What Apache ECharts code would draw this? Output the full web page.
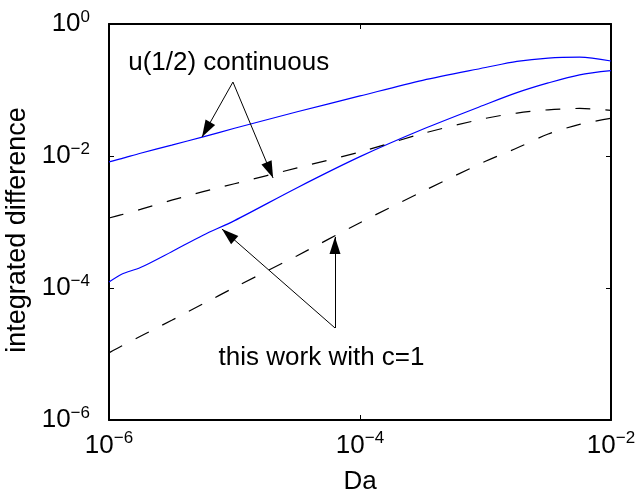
<!DOCTYPE html>
<html lang="en">
<head>
<meta charset="UTF-8">
<title>integrated difference vs Da</title>
<script src="https://cdn.jsdelivr.net/npm/echarts@6/dist/echarts.min.js"></script>
<style>
  html, body { margin: 0; padding: 0; background: #fff; }
  #main { width: 635px; height: 500px; }
</style>
</head>
<body>
<div id="main"></div>
<script>
// Da (x axis)
var da = [1e-6, 1.26e-6, 1.78e-6, 3.16e-6, 5.62e-6, 1e-5, 3.16e-5, 1e-4, 3.16e-4, 1e-3, 1.78e-3, 3.16e-3, 5.62e-3, 1e-2];
// blue solid, upper (u(1/2) continuous)
var contBlue = [8.13e-3, 9.12e-3, 1.10e-2, 1.46e-2, 1.95e-2, 2.63e-2, 4.68e-2, 8.13e-2, 0.140, 0.219, 0.272, 0.305, 0.314, 0.275];
// blue solid, lower (this work with c=1)
var workBlue = [1.23e-4, 1.62e-4, 2.04e-4, 3.55e-4, 6.31e-4, 1.05e-3, 3.31e-3, 9.77e-3, 2.54e-2, 6.03e-2, 9.12e-2, 0.128, 0.170, 0.196];
// black dashed, upper (u(1/2) continuous)
var contDash = [1.15e-3, 1.29e-3, 1.55e-3, 2.14e-3, 2.88e-3, 3.80e-3, 6.61e-3, 1.15e-2, 2.19e-2, 3.72e-2, 4.47e-2, 5.01e-2, 5.25e-2, 4.90e-2];
// black dashed, lower (this work with c=1)
var workDash = [1.04e-5, 1.32e-5, 1.86e-5, 3.24e-5, 5.75e-5, 1.02e-4, 3.09e-4, 9.77e-4, 2.91e-3, 8.32e-3, 1.32e-2, 2.15e-2, 3.02e-2, 3.72e-2];

// annotations: text anchors and arrows (data coordinates)
var noteText = ['u(1/2) continuous', 'this work with c=1'];
var noteAt = [[1.41e-6, 0.258], [7.4e-6, 8.8e-6]];
var arrowFrom = [[9.72e-6, 0.132], [9.72e-6, 0.132], [6.32e-5, 2.48e-5], [6.32e-5, 2.48e-5]];
var arrowTo = [[5.51e-6, 1.94e-2], [2.03e-5, 4.65e-3], [7.94e-6, 7.83e-4], [6.32e-5, 5.93e-4]];

var FONT = '"Liberation Sans", Arial, Helvetica, sans-serif';

function pairs(xs, ys) {
  var out = [];
  for (var i = 0; i < xs.length; i++) out.push([xs[i], ys[i]]);
  return out;
}

function powLabel(v) {
  var e = Math.round(Math.log(v) / Math.LN10);
  return '{b|10}{s|' + (e < 0 ? '\u2212' + (-e) : e) + '}';
}

var richPow = {
  b: { fontSize: 26, fontFamily: FONT, color: '#000' },
  s: { fontSize: 17, fontFamily: FONT, color: '#000', padding: [0, 0, 14, 0] }
};

var axisLine = { show: true, onZero: false, lineStyle: { color: '#000', width: 2 } };
var axisTick = { show: true, inside: true, length: 5, lineStyle: { color: '#000', width: 1 } };

var myChart = echarts.init(document.getElementById('main'));

var arrowData = [];
for (var i = 0; i < arrowFrom.length; i++) {
  arrowData.push([
    { coord: arrowFrom[i] },
    { coord: arrowTo[i], symbol: 'triangle', symbolSize: [11, 17], symbolOffset: [0, '50%'] }
  ]);
}

var noteData = [];
for (var j = 0; j < noteText.length; j++) {
  noteData.push({ name: noteText[j], coord: noteAt[j] });
}

var solid = { color: '#0000ff', width: 1.2, type: 'solid' };
var dashed = { color: '#000', width: 1.2, type: [15, 15] };

var option = {
  animation: false,
  backgroundColor: '#fff',
  textStyle: { fontFamily: FONT },
  grid: { left: 109, top: 24, right: 24, bottom: 80, containLabel: false, outerBoundsMode: 'none' },
  xAxis: [
    {
      type: 'log', logBase: 10, min: 1e-6, max: 1e-2, interval: 2,
      name: 'Da', nameLocation: 'middle', nameGap: 49,
      nameTextStyle: { fontSize: 26, fontFamily: FONT, color: '#000' },
      axisLine: axisLine, axisTick: axisTick, splitLine: { show: false }, minorTick: { show: false },
      axisLabel: { margin: 10, formatter: powLabel, rich: richPow }
    },
    {
      type: 'log', logBase: 10, min: 1e-6, max: 1e-2, interval: 2, position: 'top',
      axisLine: axisLine, axisTick: axisTick, splitLine: { show: false }, axisLabel: { show: false }
    }
  ],
  yAxis: [
    {
      type: 'log', logBase: 10, min: 1e-6, max: 1, interval: 2,
      name: 'integrated difference', nameLocation: 'middle', nameGap: 76,
      nameTextStyle: { fontSize: 27, fontFamily: FONT, color: '#000', padding: [0, 16, 0, 0] },
      axisLine: axisLine, axisTick: axisTick, splitLine: { show: false }, minorTick: { show: false },
      axisLabel: { margin: 19, formatter: powLabel, rich: richPow }
    },
    {
      type: 'log', logBase: 10, min: 1e-6, max: 1, interval: 2, position: 'right',
      axisLine: axisLine, axisTick: axisTick, splitLine: { show: false }, axisLabel: { show: false }
    }
  ],
  series: [
    { type: 'line', data: pairs(da, contBlue), symbol: 'none', smooth: 0.3, lineStyle: solid, silent: true },
    { type: 'line', data: pairs(da, workBlue), symbol: 'none', smooth: 0.3, lineStyle: solid, silent: true },
    { type: 'line', data: pairs(da, contDash), symbol: 'none', smooth: 0.3, lineStyle: dashed, silent: true },
    { type: 'line', data: pairs(da, workDash), symbol: 'none', smooth: 0.3, lineStyle: dashed, silent: true },
    {
      type: 'line', data: [], silent: true,
      markLine: {
        silent: true, animation: false,
        symbol: ['none', 'triangle'],
        label: { show: false },
        lineStyle: { color: '#000', width: 1, type: 'solid' },
        itemStyle: { color: '#000' },
        emphasis: { disabled: true },
        data: arrowData
      },
      markPoint: {
        silent: true, animation: false,
        symbol: 'circle', symbolSize: 1,
        itemStyle: { color: 'rgba(0,0,0,0)' },
        label: { show: true, position: 'right', distance: 0, formatter: '{b}', color: '#000', fontSize: 26, fontFamily: FONT },
        data: noteData
      }
    }
  ]
};

myChart.setOption(option);
</script>
</body>
</html>
